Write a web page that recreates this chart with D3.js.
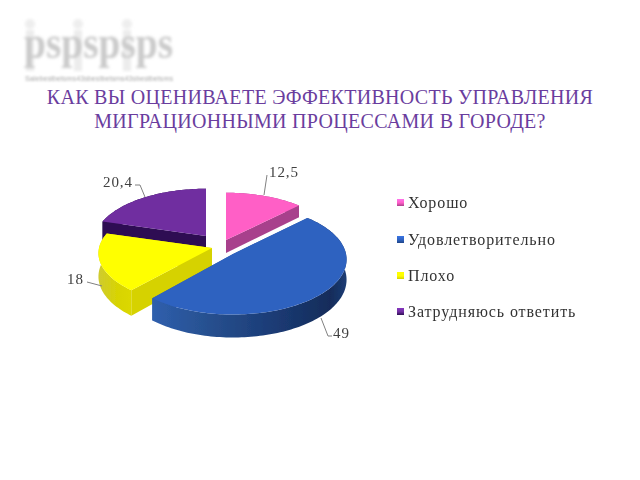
<!DOCTYPE html>
<html><head><meta charset="utf-8">
<script src="https://cdnjs.cloudflare.com/ajax/libs/d3/7.8.5/d3.min.js"></script>
<style>html,body{margin:0;padding:0;background:#fff}svg{display:block}</style>
</head><body><svg id="c" width="640" height="480"></svg>
<script>
const categories = ["Хорошо","Удовлетворительно","Плохо","Затрудняюсь ответить"];
const values = [12.5,49,18,20.4];
const titleLines = ["КАК ВЫ ОЦЕНИВАЕТЕ ЭФФЕКТИВНОСТЬ УПРАВЛЕНИЯ","МИГРАЦИОННЫМИ ПРОЦЕССАМИ В ГОРОДЕ?"];
const topColors = ["#ff5fc6","#2f62c0","#ffff00","#6f2da0"];
const sideColors = ["#a8418c","#1f4488","#d6d200","#2e0d52"];
const centers = [[226,240],[233,254],[212,248],[206,236]];
const radii = [[111,52.5],[113,55],[113,52.5],[111,52.5]];
const depths = [13,20,23,20];
const leaders = [[[264,195],[267,175]],[[321,318],[328,336],[332,336]],[[87,282],[102,286]],[[145,197],[140,185],[135,185]]];
const labelPos = [[269,177],[333,338],[67,284],[103,187]];
const legendY = [203,240,276,312];

const svg = d3.select("#c");
const defs = svg.append("defs");
defs.append("filter").attr("id","soft").append("feGaussianBlur").attr("stdDeviation",0.45);
defs.append("filter").attr("id","wm").append("feGaussianBlur").attr("stdDeviation",1.8);
defs.append("filter").attr("id","wm2").attr("x","-5%").attr("width","110%").append("feGaussianBlur").attr("stdDeviation",0.9);
function grad(id,stops,x2=1,y2=0){
  const g=defs.append("linearGradient").attr("id",id).attr("x1",0).attr("y1",0).attr("x2",x2).attr("y2",y2);
  stops.forEach(s=>g.append("stop").attr("offset",s[0]).attr("stop-color",s[1]));
}
grad("yellowWall",[[0,"#cfcb30"],[0.6,"#d8d400"],[1,"#dcd800"]]);
topColors.forEach((c,i)=>grad("lg"+i,[[0,d3.color(c).brighter(0.5)],[0.55,c],[1,sideColors[i]]],0,1));
{const g=defs.append("linearGradient").attr("id","blueWallR").attr("gradientUnits","userSpaceOnUse")
  .attr("x1",150).attr("y1",0).attr("x2",346).attr("y2",0);
 [[0,"#2f5fae"],[0.3,"#27508f"],[0.6,"#1c3d78"],[0.92,"#142c5a"],[1,"#1c3c74"]]
  .forEach(s=>g.append("stop").attr("offset",s[0]).attr("stop-color",s[1]));}

// Watermark
const wm = svg.append("g").attr("filter","url(#wm)");
[30,78,127].forEach(x=>{
  wm.append("circle").attr("cx",x).attr("cy",24).attr("r",5).attr("fill","#eeeeee");
  wm.append("rect").attr("x",x-4).attr("y",30).attr("width",8).attr("height",41).attr("fill","#ececec");
});
wm.append("text").attr("x",24).attr("y",58).attr("font-family","Liberation Serif")
  .attr("font-size",46).attr("font-weight","bold").attr("fill","#cacaca")
  .attr("textLength",149).attr("lengthAdjust","spacingAndGlyphs").text("pspspsps");
svg.append("text").attr("x",25).attr("y",81).attr("font-family","Liberation Sans")
  .attr("font-size",7).attr("fill","#a8a8a8").attr("filter","url(#wm2)")
  .attr("textLength",148).attr("lengthAdjust","spacingAndGlyphs").text("Salebestbetsms43sbestbetsms43sbestbetsms");

svg.append("g").attr("font-family","Liberation Serif").attr("font-size",20).attr("letter-spacing",0.3).attr("fill","#6a3d9e")
  .attr("text-anchor","middle").selectAll("text").data(titleLines).join("text")
  .attr("x",320).attr("y",(d,i)=>104+i*24).text(d=>d);

const arcs = d3.pie().sort(null)(values);
const perspective = 0.1;
function project(i,a,r,dz){
  const u=r*Math.sin(a), v=-r*Math.cos(a), s=1+perspective*v;
  return [centers[i][0]+radii[i][0]*u*s, centers[i][1]+radii[i][1]*v*s+dz*(1+0.15*v)];
}
const line=d3.line();
const pie=svg.append("g").attr("filter","url(#soft)");
function sampleArc(i,a0,a1,dz){
  const n=Math.max(2,Math.ceil(Math.abs(a1-a0)*40));
  return d3.range(n+1).map(k=>project(i,a0+(a1-a0)*k/n,1,dz));
}
[3,0,2,1].forEach(i=>{
  const a=arcs[i], g=pie.append("g");
  const c0=project(i,0,0,0), c1=project(i,0,0,depths[i]);
  [a.startAngle,a.endAngle].forEach(t=>{
    const p0=project(i,t,1,0), p1=project(i,t,1,depths[i]);
    g.append("path").attr("d",line([c0,p0,p1,c1])+"Z")
      .attr("fill",i==1?"#2c5aa6":sideColors[i]);
  });
  const top=sampleArc(i,a.startAngle,a.endAngle,0), bot=sampleArc(i,a.endAngle,a.startAngle,depths[i]);
  const wallFill = i==1?"url(#blueWallR)":i==2?"url(#yellowWall)":sideColors[i];
  g.append("path").attr("d",line(top.concat(bot))+"Z").attr("fill",wallFill);
  g.append("path").attr("d",line([c0].concat(top))+"Z").attr("fill",topColors[i]);
});

const labels=svg.append("g").attr("filter","url(#soft)");
labels.selectAll("path").data(leaders).join("path").attr("d",d=>line(d))
  .attr("fill","none").attr("stroke","#808080").attr("stroke-width",1);
labels.selectAll("text").data(values).join("text")
  .attr("x",(d,i)=>labelPos[i][0]).attr("y",(d,i)=>labelPos[i][1])
  .attr("font-family","Liberation Serif").attr("font-size",15).attr("letter-spacing",0.9).attr("fill","#404040")
  .text(d=>String(d).replace(".",","));

const legend=svg.append("g").attr("filter","url(#soft)");
categories.forEach((c,i)=>{
  legend.append("rect").attr("x",397).attr("y",legendY[i]-4).attr("width",7).attr("height",7).attr("fill",`url(#lg${i})`);
  legend.append("text").attr("x",408).attr("y",legendY[i]+5)
    .attr("font-family","Liberation Serif").attr("font-size",16).attr("letter-spacing",0.9).attr("fill","#333").text(c);
});
</script></body></html>
